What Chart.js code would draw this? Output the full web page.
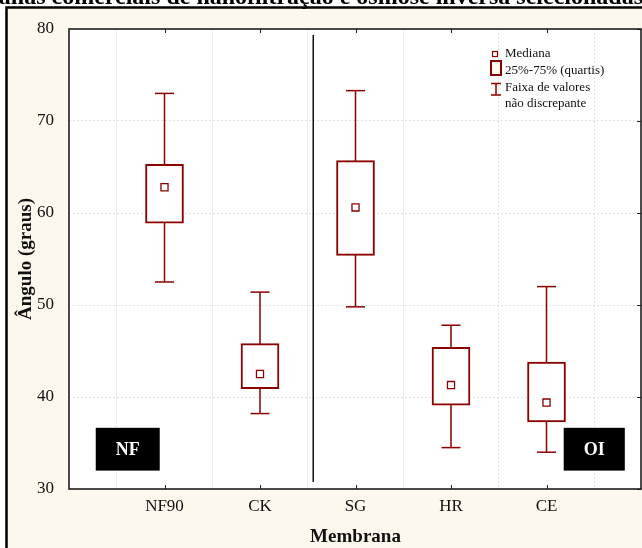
<!DOCTYPE html>
<html lang="pt">
<head>
<meta charset="utf-8">
<title>Ângulo de contato por membrana</title>
<script src="https://cdn.jsdelivr.net/npm/chart.js@4/dist/chart.umd.min.js"></script>
<style>
  html, body { margin: 0; padding: 0; background: #ffffff; overflow: hidden; }
  #wrap { width: 642px; height: 548px; }
</style>
</head>
<body>
<div id="wrap"><canvas id="chart" width="642" height="548"></canvas></div>
<script>
// Contact angle (degrees) per membrane: whisker range, quartiles and median
const categories  = ['NF90', 'CK', 'SG', 'HR', 'CE'];
const whiskerLow  = [52.5, 38.2, 49.8, 34.5, 34.0];
const quartile1   = [58.9, 40.9, 55.4, 39.1, 37.3];
const medians     = [62.8, 42.5, 60.6, 41.3, 39.4];
const quartile3   = [65.3, 45.8, 65.7, 45.4, 43.8];
const whiskerHigh = [73.0, 51.4, 73.3, 47.8, 52.0];

// Axis ticks
const yTicks = [30, 40, 50, 60, 70, 80];

// Vertical divider between the NF and OI groups, and the group tags
const divider = { x: 2.55, yFrom: 79.35, yTo: 30.75 };
const groupTags = [
  { text: 'NF', x0: 0.28, x1: 0.95, y0: 36.65, y1: 32.0 },
  { text: 'OI', x0: 5.18, x1: 5.82, y0: 36.65, y1: 32.0 }
];

const RED = '#8b0000';
const SERIF = '"Liberation Serif", "Times New Roman", serif';
const CREAM = '#fdf8ee';

const positions = categories.map((_, i) => i + 1);

// whisker stems, broken between categories with null points
const stemData = [];
positions.forEach((x, i) => {
  stemData.push({ x, y: whiskerLow[i] }, { x, y: whiskerHigh[i] }, { x: x + 0.5, y: null });
});
const capData = [];
positions.forEach((x, i) => {
  capData.push({ x, y: whiskerLow[i] }, { x, y: whiskerHigh[i] });
});
const boxData = positions.map((x, i) => ({ x, y: [quartile1[i], quartile3[i]] }));
const medianData = positions.map((x, i) => ({ x, y: medians[i] }));

const framePlugin = {
  id: 'frame',
  beforeDraw(chart) {
    const { ctx, width, height, chartArea: a } = chart;
    ctx.save();
    ctx.fillStyle = '#ffffff';
    ctx.fillRect(0, 0, width, height);
    ctx.fillStyle = CREAM;
    ctx.fillRect(7, 8, width - 7, height - 8);
    ctx.strokeStyle = '#000';
    ctx.lineWidth = 2.5;
    ctx.beginPath();
    ctx.moveTo(6.5, height + 2);
    ctx.lineTo(6.5, 7.5);
    ctx.lineTo(width + 2, 7.5);
    ctx.stroke();
    ctx.fillStyle = '#ffffff';
    ctx.fillRect(a.left, a.top, a.right - a.left, a.bottom - a.top);
    // heading running off the top edge
    ctx.fillStyle = '#000';
    ctx.font = 'bold 24px ' + SERIF;
    ctx.textAlign = 'right';
    ctx.textBaseline = 'alphabetic';
    ctx.fillText('membranas comerciais de nanofiltração e osmose inversa selecionadas', 643, 4);
    ctx.restore();
  },
  afterDraw(chart) {
    const { ctx, chartArea: a, scales } = chart;
    const xs = scales.x, ys = scales.y;
    ctx.save();
    // divider
    ctx.strokeStyle = '#111';
    ctx.lineWidth = 1.5;
    const dx = Math.round(xs.getPixelForValue(divider.x)) + 0.25;
    ctx.beginPath();
    ctx.moveTo(dx, ys.getPixelForValue(divider.yFrom));
    ctx.lineTo(dx, ys.getPixelForValue(divider.yTo));
    ctx.stroke();

    // inward tick marks
    ctx.strokeStyle = '#222';
    ctx.lineWidth = 1;
    positions.forEach(v => {
      const px = Math.round(xs.getPixelForValue(v)) + 0.5;
      ctx.beginPath();
      ctx.moveTo(px, a.bottom); ctx.lineTo(px, a.bottom - 4);
      ctx.moveTo(px, a.top); ctx.lineTo(px, a.top + 4);
      ctx.stroke();
    });
    yTicks.forEach(v => {
      const py = Math.round(ys.getPixelForValue(v)) + 0.5;
      ctx.beginPath();
      ctx.moveTo(a.right - 1, py); ctx.lineTo(a.right - 5, py);
      ctx.stroke();
    });

    // plot frame
    ctx.strokeStyle = '#111';
    ctx.lineWidth = 1.5;
    ctx.strokeRect(a.left, a.top, a.right - a.left - 1, a.bottom - a.top);

    // group tags
    groupTags.forEach(t => {
      const x0 = xs.getPixelForValue(t.x0), x1 = xs.getPixelForValue(t.x1);
      const y0 = ys.getPixelForValue(t.y0), y1 = ys.getPixelForValue(t.y1);
      ctx.fillStyle = '#000';
      ctx.fillRect(x0, y0, x1 - x0, y1 - y0);
      ctx.fillStyle = '#ffffff';
      ctx.font = 'bold 18px ' + SERIF;
      ctx.textAlign = 'center';
      ctx.textBaseline = 'middle';
      ctx.fillText(t.text, (x0 + x1) / 2, (y0 + y1) / 2 + 1);
    });

    // legend
    const lx = a.right - 152, lt = a.top;
    ctx.strokeStyle = RED;
    ctx.fillStyle = '#ffffff';
    ctx.lineWidth = 1.2;
    ctx.fillRect(lx + 2.5, lt + 22.5, 5, 5);
    ctx.strokeRect(lx + 2.5, lt + 22.5, 5, 5);
    ctx.lineWidth = 2;
    ctx.fillStyle = CREAM;
    ctx.fillRect(lx + 1, lt + 32, 10, 14);
    ctx.strokeRect(lx + 1, lt + 32, 10, 14);
    ctx.lineWidth = 1.5;
    ctx.beginPath();
    ctx.moveTo(lx + 1, lt + 54.5); ctx.lineTo(lx + 11, lt + 54.5);
    ctx.moveTo(lx + 6, lt + 54.5); ctx.lineTo(lx + 6, lt + 66);
    ctx.moveTo(lx + 1, lt + 66); ctx.lineTo(lx + 11, lt + 66);
    ctx.stroke();
    ctx.fillStyle = '#111';
    ctx.font = '13px ' + SERIF;
    ctx.textAlign = 'left';
    ctx.textBaseline = 'middle';
    ctx.fillText('Mediana', lx + 15, lt + 25);
    ctx.fillText('25%-75% (quartis)', lx + 15, lt + 41.5);
    ctx.fillText('Faixa de valores', lx + 15, lt + 58.5);
    ctx.fillText('não discrepante', lx + 15, lt + 75);
    ctx.restore();
  }
};

new Chart(document.getElementById('chart'), {
  type: 'bar',
  data: {
    datasets: [
      {
        type: 'scatter', label: 'stems', data: stemData, showLine: true, spanGaps: false,
        borderColor: RED, borderWidth: 1.5, pointRadius: 0, order: 4
      },
      {
        type: 'scatter', label: 'caps', data: capData, pointStyle: 'line',
        pointRadius: 9.5, pointBorderColor: RED, borderColor: RED, pointBorderWidth: 1.5, order: 3
      },
      {
        type: 'bar', label: 'boxes', data: boxData, backgroundColor: '#ffffff',
        borderColor: RED, borderWidth: 2, borderSkipped: false, barThickness: 38, order: 2
      },
      {
        type: 'scatter', label: 'medians', data: medianData, pointStyle: 'rect',
        pointRadius: 5, pointBackgroundColor: '#ffffff', pointBorderColor: RED,
        pointBorderWidth: 1.3, order: 1
      }
    ]
  },
  options: {
    responsive: false,
    animation: false,
    events: [],
    layout: { autoPadding: false, padding: { left: 0, top: 29, right: 0, bottom: 0 } },
    plugins: { legend: { display: false }, tooltip: { enabled: false } },
    scales: {
      x: {
        type: 'linear', min: 0, max: 6, offset: false,
        afterFit: s => { s.height = 59; s.paddingLeft = 0; s.paddingRight = 0; },
        afterBuildTicks: s => { s.ticks = [0, 1, 2, 3, 4, 5, 6].map(v => ({ value: v })); },
        grid: { color: '#e2e2e2', lineWidth: 1, drawTicks: false },
        border: { display: false, dash: [2, 2] },
        ticks: {
          padding: 7, color: '#111', font: { family: SERIF, size: 17 },
          callback: v => categories[v - 1] || ''
        },
        title: {
          display: true, text: 'Membrana', color: '#111', padding: { top: 0, bottom: 0 },
          font: { family: SERIF, size: 19, weight: 'bold' }
        }
      },
      y: {
        type: 'linear', min: 30, max: 80,
        afterFit: s => { s.width = 69; s.paddingTop = 0; s.paddingBottom = 0; },
        afterBuildTicks: s => { s.ticks = yTicks.map(v => ({ value: v })); },
        grid: { color: '#e2e2e2', lineWidth: 1, drawTicks: false },
        border: { display: false, dash: [2, 2] },
        ticks: { padding: 15, color: '#111', font: { family: SERIF, size: 17 } },
        title: {
          display: true, text: 'Ângulo (graus)', color: '#111', padding: { top: 15, bottom: 0 },
          font: { family: SERIF, size: 19, weight: 'bold' }
        }
      }
    }
  },
  plugins: [framePlugin]
});
</script>
</body>
</html>
